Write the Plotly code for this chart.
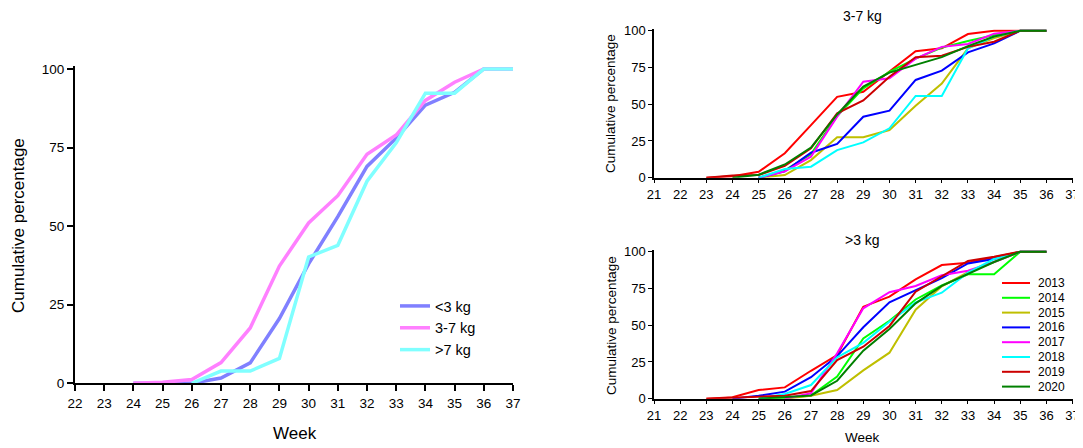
import plotly.graph_objects as go

# Left panel: cumulative percentage by weight class
weeks_left = [24, 25, 26, 27, 28, 29, 30, 31, 32, 33, 34, 35, 36, 37]
lt3_kg = [0, 0, 0, 1.7, 6.5, 20.6, 38, 53, 69, 78, 88.5, 92.6, 100, 100]
kg3_7 = [0, 0.3, 1.2, 6.6, 17.6, 37.3, 51, 59.7, 72.9, 79, 90, 95.8, 100, 100]
gt7_kg = [None, None, 0, 3.9, 3.9, 7.9, 40.2, 43.9, 64.3, 76.5, 92.3, 92.3, 100, 100]

# Right panels: per-year curves
weeks_right = [23, 24, 25, 26, 27, 28, 29, 30, 31, 32, 33, 34, 35, 36]
years = ["2013", "2014", "2015", "2016", "2017", "2018", "2019", "2020"]
year_colors = ["#FF0000", "#00FF00", "#BFBF00", "#0000FF", "#FF00FF", "#00FFFF", "#CC0000", "#008000"]

top_3_7 = {
    "2013": [0, 1, 4, 16.6, 35.8, 55, 58.5, 72.5, 86, 88, 97.7, 100, 100, 100],
    "2014": [None, None, 0, 5, 16, 42, 60.8, 72, 81, 88.5, 93, 97, 100, 100],
    "2015": [None, None, 0, 1.8, 12, 27.5, 27.5, 32.4, 49, 64, 88, 95, 100, 100],
    "2016": [None, None, 0, 4.3, 17, 23, 41.5, 45.6, 66.5, 72.8, 85.3, 91.4, 100, 100],
    "2017": [None, None, 0, 4.3, 14.3, 41.5, 65.3, 67.6, 81, 89, 91, 98, 100, 100],
    "2018": [None, None, 0, 5.9, 7.5, 18.8, 24, 33.6, 55.6, 55.6, 88, 96, 100, 100],
    "2019": [0, 1.5, 1.8, 8, 20, 43.8, 52.5, 68.7, 82, 83, 89, 92.5, 100, 100],
    "2020": [None, 0, 2, 9, 20.5, 43, 62, 71.5, 77, 82, 89.5, 96, 100, 100],
}

bottom_gt3 = {
    "2013": [0, 1, 5.9, 7.7, 19, 29.7, 62.6, 69.4, 81.2, 90.9, 92.5, 96, 100, 100],
    "2014": [None, None, 0, 0.5, 2.2, 15, 41, 53, 67.5, 77, 84.6, 84.6, 100, 100],
    "2015": [None, None, None, 0, 2, 5.9, 19.3, 31.3, 60.5, 76.5, 86, 93, 100, 100],
    "2016": [None, 0, 2, 4.8, 14.6, 29, 48.6, 65.6, 74, 82, 92, 95, 100, 100],
    "2017": [None, None, None, 0, 3.7, 30.9, 61.5, 72.4, 76.7, 84, 87, 93, 100, 100],
    "2018": [None, None, 0, 3.2, 9.3, 28.2, 38, 52.4, 65.5, 72.1, 85.7, 95, 100, 100],
    "2019": [0, 0.5, 1, 2, 5.2, 26.3, 35.4, 49.5, 72.8, 83.5, 93.7, 96.6, 100, 100],
    "2020": [None, None, 0, 1, 2.2, 12.2, 32.7, 47.4, 64.9, 76.7, 85, 93, 100, 100],
}

FONT = "Arial, Liberation Sans, sans-serif"
# the page body adds an 8px margin, so the figure is drawn 8px smaller and offset
PAD = 8
W, H = 1083 - PAD, 448 - PAD


def px_x(p):
    return (p - PAD) / W


def px_y(p):
    return (H - (p - PAD)) / H


fig = go.Figure()

left_series = [("<3 kg", lt3_kg, "#8080FF"), ("3-7 kg", kg3_7, "#FF80FF"), (">7 kg", gt7_kg, "#80FFFF")]
for name, vals, color in left_series:
    fig.add_trace(
        go.Scatter(
            x=weeks_left, y=vals, mode="lines", name=name,
            line=dict(color=color, width=3.5), xaxis="x", yaxis="y",
        )
    )

for year, color in zip(years, year_colors):
    fig.add_trace(
        go.Scatter(
            x=weeks_right, y=top_3_7[year], mode="lines", name=year,
            line=dict(color=color, width=2), xaxis="x2", yaxis="y2", showlegend=False,
        )
    )
    fig.add_trace(
        go.Scatter(
            x=weeks_right, y=bottom_gt3[year], mode="lines", name=year,
            line=dict(color=color, width=2), xaxis="x3", yaxis="y3", showlegend=False,
        )
    )

axis_common = dict(
    showline=True, linecolor="black", showgrid=False, zeroline=False, automargin=False,
    ticks="outside", tickcolor="black", mirror=False,
)

# 100 sits at the same pixel as the reference, range extended slightly so top lines are not clipped
left_top = 69 - 3.14
r_top_top = 30.7 - 1.47
r_bot_top = 251.7 - 1.47

fig.update_layout(
    template="none",
    width=W, height=H,
    margin=dict(l=0, r=0, t=0, b=0, autoexpand=False),
    paper_bgcolor="white", plot_bgcolor="white",
    font=dict(family=FONT, color="black"),
    xaxis=dict(
        **axis_common, domain=[px_x(75), px_x(513)], range=[22, 37], dtick=1,
        linewidth=2, ticklen=6, tickwidth=1.5, tickfont=dict(size=13.5), anchor="y",
    ),
    yaxis=dict(
        **axis_common, domain=[px_y(383.3), px_y(left_top)], range=[0, 101], tickvals=[0, 25, 50, 75, 100],
        linewidth=2, ticklen=6, tickwidth=1.5, tickfont=dict(size=13.5), anchor="x",
    ),
    xaxis2=dict(
        **axis_common, domain=[px_x(654), px_x(1072.6)], range=[21, 37], dtick=1,
        linewidth=1.5, ticklen=4, tickfont=dict(size=13), anchor="y2",
    ),
    yaxis2=dict(
        **axis_common, domain=[px_y(177.7), px_y(r_top_top)], range=[0, 101], tickvals=[0, 25, 50, 75, 100],
        linewidth=1.5, ticklen=4, tickfont=dict(size=13), anchor="x2",
    ),
    xaxis3=dict(
        **axis_common, domain=[px_x(654), px_x(1072.6)], range=[21, 37], dtick=1,
        linewidth=1.5, ticklen=4, tickfont=dict(size=13), anchor="y3",
    ),
    yaxis3=dict(
        **axis_common, domain=[px_y(398.7), px_y(r_bot_top)], range=[0, 101], tickvals=[0, 25, 50, 75, 100],
        linewidth=1.5, ticklen=4, tickfont=dict(size=13), anchor="x3",
    ),
    legend=dict(
        x=px_x(395), y=px_y(290), xanchor="left", yanchor="top",
        font=dict(size=14.5), bgcolor="rgba(0,0,0,0)", tracegroupgap=0,
    ),
    showlegend=True,
)

annotations = [
    dict(text="Cumulative percentage", x=px_x(18), y=px_y(226), textangle=-90, font=dict(size=17)),
    dict(text="Week", x=px_x(295), y=px_y(433), font=dict(size=17)),
    dict(text="Cumulative percentage", x=px_x(611), y=px_y(104), textangle=-90, font=dict(size=13.5)),
    dict(text="Cumulative percentage", x=px_x(611), y=px_y(326), textangle=-90, font=dict(size=13.5)),
    dict(text="3-7 kg", x=px_x(862), y=px_y(16), font=dict(size=14)),
    dict(text=">3 kg", x=px_x(862), y=px_y(240), font=dict(size=14)),
    dict(text="Week", x=px_x(862), y=px_y(437), font=dict(size=13.5)),
]
for a in annotations:
    fig.add_annotation(xref="paper", yref="paper", showarrow=False, xanchor="center", yanchor="middle", **a)

# Compact year legend for the right panels (plotly's legend rows are too tall here)
fig.add_shape(
    type="rect", xref="paper", yref="paper",
    x0=px_x(996), x1=1, y0=px_y(395), y1=px_y(275),
    fillcolor="white", line=dict(width=0), layer="above",
)
for i, (year, color) in enumerate(zip(years, year_colors)):
    yc = px_y(283 + i * 14.8)
    fig.add_shape(
        type="line", xref="paper", yref="paper",
        x0=px_x(1002), x1=px_x(1030), y0=yc, y1=yc,
        line=dict(color=color, width=2), layer="above",
    )
    fig.add_annotation(
        text=year, xref="paper", yref="paper", x=px_x(1036), y=yc,
        xanchor="left", yanchor="middle", showarrow=False, font=dict(size=12),
    )

fig.write_html("out.html")
